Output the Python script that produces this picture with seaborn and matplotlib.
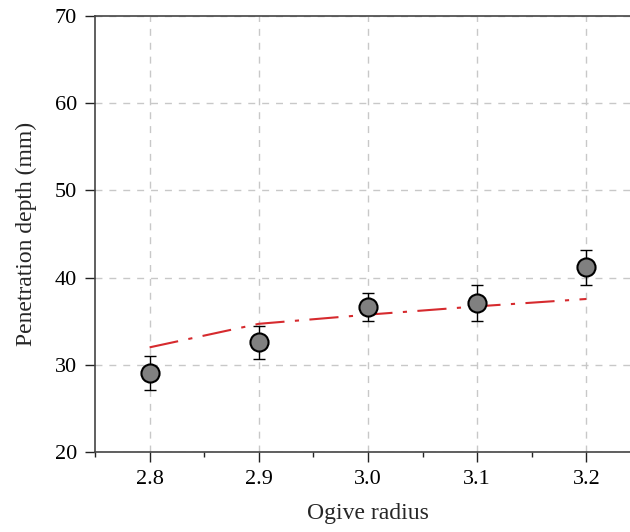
import matplotlib
matplotlib.use("Agg")
import matplotlib.pyplot as plt
import seaborn as sns
import pandas as pd
from matplotlib.ticker import MultipleLocator

ogive_radius = [2.8, 2.9, 3.0, 3.1, 3.2]
depth_measured = [29.05, 32.6, 36.6, 37.1, 41.2]
depth_err = [1.95, 1.9, 1.6, 2.1, 2.0]
depth_fit = [32.0, 34.7, 35.75, 36.7, 37.55]
x_tick_labels = ["2.8", "2.9", "3.0", "3.1", "3.2"]

sns.set_theme(style="white")
plt.rcParams['font.family'] = ['Liberation Serif', 'DejaVu Serif']

df = pd.DataFrame({"x": ogive_radius, "y": depth_measured, "fit": depth_fit})

fig = plt.figure(figsize=(6.3, 5.32), dpi=100)
ax = fig.add_axes([95/630, 80/532, 546/630, 436/532])

ax.grid(True, color="#c8c8c8", linestyle=(0, (5, 5)), linewidth=1.0)
ax.set_axisbelow(True)

sns.lineplot(data=df, x="x", y="fit", ax=ax, color="#d62a2e", linewidth=1.5,
             linestyle="-.", zorder=2)
ax.lines[-1].set_dashes([14, 5, 2, 5])
ax.errorbar(ogive_radius, depth_measured, yerr=depth_err, fmt="none",
            ecolor="black", elinewidth=1.0, capsize=4.5, capthick=1.0, zorder=3)
sns.scatterplot(data=df, x="x", y="y", ax=ax, s=170, color="#808080",
                edgecolor="black", linewidth=1.5, zorder=4)

ax.set_xlim(2.75, 3.25)
ax.set_ylim(20, 70)
ax.xaxis.set_minor_locator(MultipleLocator(0.05))
ax.yaxis.set_major_locator(MultipleLocator(10))
ax.set_xticks(ogive_radius)
ax.set_xticklabels(x_tick_labels)

ax.tick_params(axis="both", which="major", direction="out", length=7, width=1.0,
               colors="#222222", labelsize=16, labelcolor="black", pad=6,
               bottom=True, left=True, top=False, right=False)
ax.tick_params(axis="x", which="minor", direction="out", length=3.5, width=1.0,
               colors="#222222", bottom=True)
for s in ax.spines.values():
    s.set_color("#444444")
    s.set_linewidth(1.2)
ax.spines["right"].set_visible(False)

ax.set_xlabel("Ogive radius", fontsize=17, labelpad=10)
ax.set_ylabel("Penetration depth (mm)", fontsize=17, labelpad=13)

fig.savefig("out.png", dpi=100)
